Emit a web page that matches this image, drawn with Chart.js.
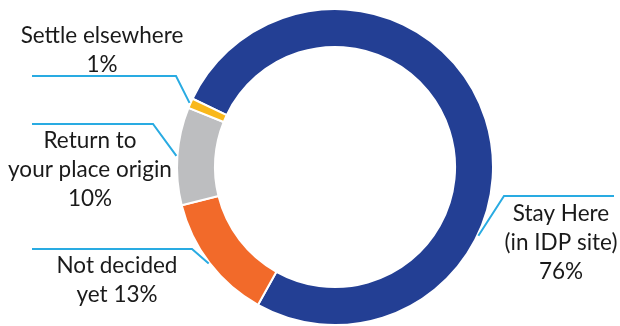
<!DOCTYPE html>
<html>
<head>
<meta charset="utf-8">
<script src="https://cdn.jsdelivr.net/npm/chart.js@4"></script>
<style>
  html, body { margin: 0; padding: 0; background: #fff; }
  #wrap { width: 620px; height: 326px; position: relative; }
</style>
</head>
<body>
<div id="wrap"><canvas id="intentions-chart"></canvas></div>
<script>
// Future intentions of displaced households
const categories = ['Stay Here (in IDP site)', 'Not decided yet', 'Return to your place origin', 'Settle elsewhere'];
const shares = [76, 13, 10, 1];
const sliceColors = ['#233f94', '#f26a2a', '#bdbec0', '#f9b81b'];

// Text lines per slice; the share is put after the last line or on a line of its own
const labelLines = [
  ['Stay Here', '(in IDP site)'],
  ['Not decided', 'yet'],
  ['Return to', 'your place origin'],
  ['Settle elsewhere']
];
const shareInline = [false, true, false, false];

// Callout layout: text centre/first baseline, leader elbow, leader end, anchor along slice
const callouts = [
  { x: 561, y: 221, elbowX: 504, elbowY: 196, endX: 614, along: 0.658 },
  { x: 117, y: 273, elbowX: 192, elbowY: 249, endX: 32, along: 0.5 },
  { x: 90, y: 148, elbowX: 153, elbowY: 124, endX: 32, along: 0.5 },
  { x: 102, y: 43, elbowX: 176, elbowY: 76, endX: 32, along: 0.5 }
];

const LINE_HEIGHT = 29;
const LEADER_COLOR = '#29abe2';

const calloutPlugin = {
  id: 'callouts',
  afterDatasetsDraw(chart) {
    const ctx = chart.ctx;
    const arcs = chart.getDatasetMeta(0).data;
    ctx.save();
    arcs.forEach((arc, i) => {
      const c = callouts[i];
      const p = arc.getProps(['x', 'y', 'startAngle', 'endAngle', 'outerRadius'], true);
      const a = p.startAngle + (p.endAngle - p.startAngle) * c.along;
      const ax = p.x + Math.cos(a) * (p.outerRadius + 1);
      const ay = p.y + Math.sin(a) * (p.outerRadius + 1);

      ctx.strokeStyle = LEADER_COLOR;
      ctx.lineWidth = 2;
      ctx.beginPath();
      ctx.moveTo(c.endX, c.elbowY);
      ctx.lineTo(c.elbowX, c.elbowY);
      ctx.lineTo(ax, ay);
      ctx.stroke();

      const lines = labelLines[i].slice();
      const pct = shares[i] + '%';
      if (shareInline[i]) {
        lines[lines.length - 1] += ' ' + pct;
      } else {
        lines.push(pct);
      }
      ctx.fillStyle = '#1a1a1a';
      ctx.font = '22.5px Lato, "Open Sans", sans-serif';
      ctx.textAlign = 'center';
      ctx.textBaseline = 'alphabetic';
      lines.forEach((t, k) => ctx.fillText(t, c.x, c.y + k * LINE_HEIGHT));
    });
    ctx.restore();
  }
};

new Chart(document.getElementById('intentions-chart'), {
  type: 'doughnut',
  data: {
    labels: categories,
    datasets: [{
      data: shares,
      backgroundColor: sliceColors,
      borderColor: '#ffffff',
      borderWidth: 2
    }]
  },
  options: {
    responsive: true,
    maintainAspectRatio: false,
    animation: false,
    cutout: '76%',
    rotation: -64.4,
    layout: {
      padding: { left: 176, right: 126, top: 8, bottom: 0 }
    },
    plugins: {
      legend: { display: false },
      tooltip: { enabled: false }
    }
  },
  plugins: [calloutPlugin]
});
</script>
</body>
</html>
